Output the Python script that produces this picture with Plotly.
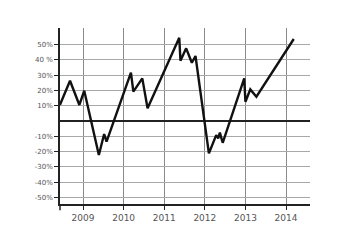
import plotly.graph_objects as go

# Data (decimal year, percent)
years = [2008.43, 2008.68, 2008.91, 2009.03, 2009.39, 2009.52, 2009.58, 2010.18, 2010.24,
         2010.46, 2010.59, 2011.37, 2011.40, 2011.54, 2011.68, 2011.77, 2012.10, 2012.23,
         2012.28, 2012.33, 2012.37, 2012.44, 2012.97, 2013.00, 2013.12, 2013.27, 2014.19]
values = [10.5, 26.3, 10.5, 19.8, -22.2, -8.5, -13.5, 31.6, 19.2,
          27.9, 8.3, 54.4, 39.4, 47.5, 38.1, 42.5, -21.1, -12.4,
          -9.2, -11.3, -7.6, -14.2, 27.9, 12.6, 20.7, 15.9, 53.6]

x_ticks = [2009, 2010, 2011, 2012, 2013, 2014]
x_labels = ["2009", "2010", "2011", "2012", "2013", "2014"]
y_ticks = [50, 40, 30, 20, 10, -10, -20, -30, -40, -50]
y_labels = ["50%", "40 %", "30%", "20%", "10%", "-10%", "-20%", "-30%", "-40%", "-50%"]

fig = go.Figure()
fig.add_trace(go.Scatter(
    x=years, y=values, mode="lines",
    line=dict(color="#111111", width=2.4),
    cliponaxis=False, hoverinfo="skip",
))

fig.update_layout(
    width=344, height=240,
    margin=dict(l=60, r=34, t=28, b=36),
    paper_bgcolor="white", plot_bgcolor="white",
    showlegend=False,
    font=dict(family="DejaVu Sans", size=8, color="#555555"),
)
fig.update_xaxes(
    range=[2008.433, 2014.59],
    tickvals=x_ticks, ticktext=x_labels,
    showgrid=True, gridcolor="#8a8a8a", gridwidth=1,
    showline=True, linecolor="#222222", linewidth=1.5,
    ticks="outside", ticklen=4, tickcolor="#222222",
    zeroline=False, tickfont=dict(size=9, color="#555555"),
)
fig.update_yaxes(
    range=[-54.2, 60.8],
    tickvals=y_ticks, ticktext=y_labels,
    showgrid=True, gridcolor="#a8a8a8", gridwidth=1,
    showline=True, linecolor="#222222", linewidth=1.5,
    ticks="outside", ticklen=4, tickcolor="#222222",
    zeroline=True, zerolinecolor="#222222", zerolinewidth=1.5,
    tickfont=dict(size=7, color="#555555"),
)
fig.add_shape(type="line", xref="paper", yref="paper", x0=0, x1=0, y0=0, y1=-0.035,
              line=dict(color="#222222", width=1.5))

fig.write_html("out.html")
